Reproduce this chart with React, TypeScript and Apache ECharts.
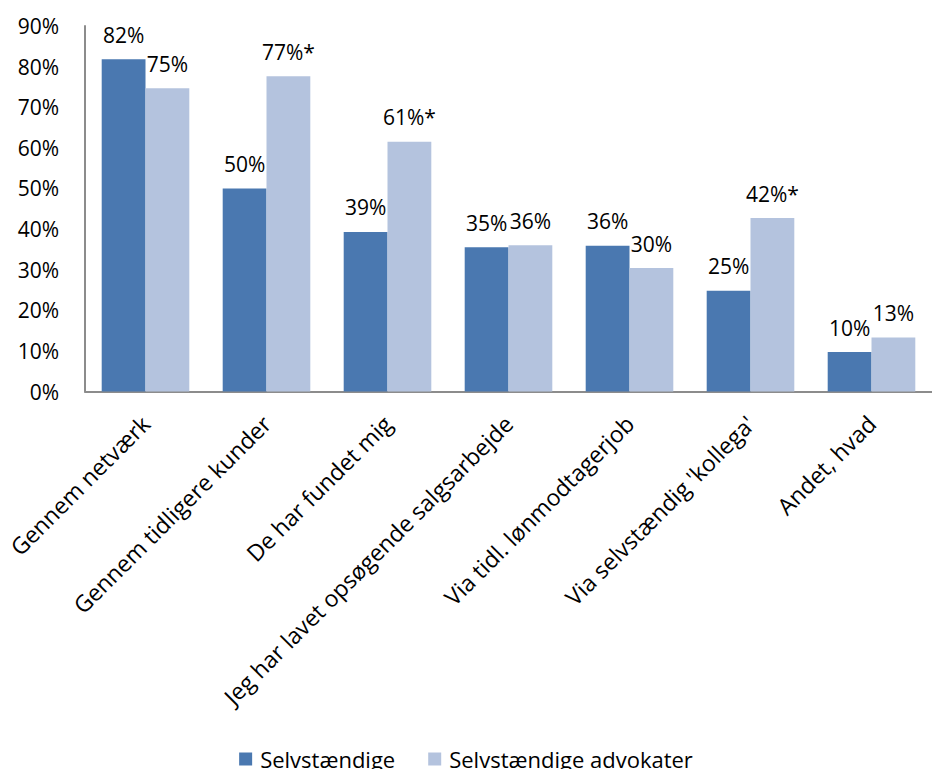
import React, { useEffect, useRef } from "react";
import * as echarts from "echarts";

const categories = [
  "Gennem netværk",
  "Gennem tidligere kunder",
  "De har fundet mig",
  "Jeg har lavet opsøgende salgsarbejde",
  "Via tidl. lønmodtagerjob",
  "Via selvstændig 'kollega'",
  "Andet, hvad",
];
const selvValues = [81.8, 50.0, 39.3, 35.5, 35.9, 24.8, 9.7];
const advValues = [74.7, 77.6, 61.5, 36.0, 30.4, 42.7, 13.3];
const selvLabels = ["82%", "50%", "39%", "35%", "36%", "25%", "10%"];
const advLabels = ["75%", "77%*", "61%*", "36%", "30%", "42%*", "13%"];
const seriesNames = ["Selvstændige", "Selvstændige advokater"];
const yTicks = [0, 90, 10]; // min, max, interval

const FONT = "'Open Sans', Lato, sans-serif";

export default function App() {
  const ref = useRef<HTMLDivElement>(null);
  useEffect(() => {
    if (!ref.current) return;
    const chart = echarts.init(ref.current, undefined, { renderer: "svg" });
    const labelStyle = {
      show: true,
      position: "top" as const,
      distance: 14,
      fontSize: 21,
      color: "#000",
      fontFamily: FONT,
    };
    chart.setOption({
      animation: false,
      textStyle: { fontFamily: FONT },
      grid: { left: 85, top: 26, width: 861, bottom: 377.5, containLabel: false },
      legend: {
        top: 743,
        left: "center",
        itemWidth: 13,
        itemHeight: 13,
        itemGap: 33,
        icon: "rect",
        textStyle: { fontSize: 22, color: "#000", fontFamily: FONT, padding: [0, 0, 0, 3] },
        data: seriesNames,
      },
      xAxis: {
        type: "category",
        data: categories,
        axisLine: { lineStyle: { color: "#8c8c8c", width: 2 } },
        axisTick: { show: false },
        axisLabel: {
          rotate: 45,
          interval: 0,
          margin: 28,
          fontSize: 23,
          color: "#000",
          fontFamily: FONT,
        },
      },
      yAxis: {
        type: "value",
        min: yTicks[0],
        max: yTicks[1],
        interval: yTicks[2],
        axisLine: { show: true, lineStyle: { color: "#8c8c8c", width: 2 } },
        axisTick: { show: false },
        splitLine: { show: false },
        axisLabel: {
          formatter: "{value}%",
          margin: 26,
          fontSize: 21,
          color: "#000",
          fontFamily: FONT,
        },
      },
      series: [
        {
          name: seriesNames[0],
          type: "bar",
          data: selvValues,
          barGap: "0%",
          barCategoryGap: "27.6%",
          itemStyle: { color: "#4a78b0" },
          label: { ...labelStyle, formatter: (p: any) => selvLabels[p.dataIndex] },
        },
        {
          name: seriesNames[1],
          type: "bar",
          data: advValues,
          barGap: "0%",
          barCategoryGap: "27.6%",
          itemStyle: { color: "#b4c3de" },
          label: { ...labelStyle, formatter: (p: any) => advLabels[p.dataIndex] },
        },
      ],
    });
    return () => chart.dispose();
  }, []);
  return (
    <div
      ref={ref}
      style={{ position: "fixed", left: 0, top: 0, width: 932, height: 769, background: "#fff" }}
    />
  );
}
